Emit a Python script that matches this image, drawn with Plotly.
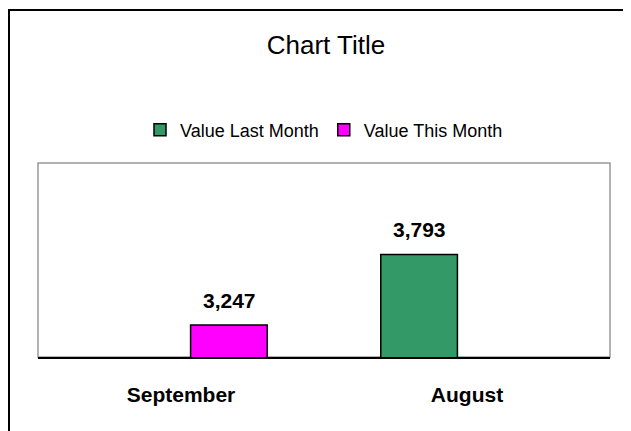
import plotly.graph_objects as go

categories = ["September", "August"]
last_month = [None, 3793]
this_month = [3247, None]
value_labels = ["3,247", "3,793"]

FONT = "Liberation Sans, Arial, sans-serif"

fig = go.Figure()
fig.add_trace(go.Bar(
    x=categories, y=last_month, name="Value Last Month",
    marker=dict(color="#339966", line=dict(color="#000000", width=1.5)),
))
fig.add_trace(go.Bar(
    x=categories, y=this_month, name="Value This Month",
    marker=dict(color="#FF00FF", line=dict(color="#000000", width=1.5)),
))

# value labels above each bar
fig.add_annotation(x=categories[0], y=this_month[0], text="<b>" + value_labels[0] + "</b>",
                   showarrow=False, yanchor="bottom", yshift=11, xshift=48,
                   font=dict(size=21))
fig.add_annotation(x=categories[1], y=last_month[1], text="<b>" + value_labels[1] + "</b>",
                   showarrow=False, yanchor="bottom", yshift=11, xshift=-48,
                   font=dict(size=21))

# plot area frame
fig.add_shape(type="rect", xref="paper", yref="paper", x0=0, x1=1, y0=0, y1=1,
              line=dict(color="#999999", width=1.5), layer="below")
# outer chart border (left and top edges visible)
fig.add_shape(type="rect", xref="paper", yref="paper",
              x0=-0.0507, x1=1.08, y0=-0.5, y1=1.789,
              line=dict(color="#000000", width=2), layer="above")

fig.update_layout(
    width=631, height=431,
    margin=dict(l=30, r=29, t=155, b=82, autoexpand=False),
    paper_bgcolor="#ffffff", plot_bgcolor="#ffffff",
    font=dict(family=FONT, size=16, color="#000000"),
    title=dict(text="Chart Title", x=0.504, xanchor="center", y=0.914, yanchor="middle",
               font=dict(size=26, color="#000000")),
    barmode="group", bargap=0.33, bargroupgap=0.2,
    showlegend=True,
    legend=dict(orientation="h", x=0.5, xanchor="center", y=1.17, yanchor="middle",
                font=dict(size=18), itemwidth=30, bgcolor="rgba(0,0,0,0)"),
    xaxis=dict(showline=True, linecolor="#000000", linewidth=1.5, ticks="",
               tickfont=dict(size=21, family=FONT),
               ticklabelstandoff=18, tickprefix="<b>", ticksuffix="</b>"),
    yaxis=dict(range=[3000, 4500], showticklabels=False, showgrid=False, zeroline=False,
               showline=False),
)

fig.write_html("out.html")
